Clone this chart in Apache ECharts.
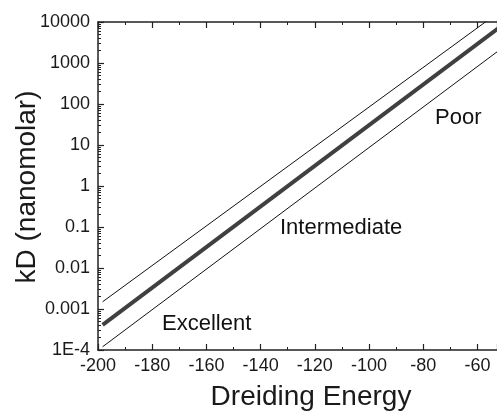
<!DOCTYPE html>
<html><head><meta charset="utf-8">
<script src="https://cdn.jsdelivr.net/npm/echarts@6/dist/echarts.min.js"></script>
<style>html,body{margin:0;padding:0;background:#fff}#c{width:497px;height:412px}</style>
</head><body><div id="c"></div>
<script>
// Data
var energyRange = [-198.3, -50];
var upperLine = [0.0015, 22000];   // kD at energyRange ends (clipped at top)
var centerLine = [0.00041, 9100];
var lowerLine = [0.00012, 2570];
var xTicks = [-200, -180, -160, -140, -120, -100, -80, -60];
var yTickValues = [0.0001, 0.001, 0.01, 0.1, 1, 10, 100, 1000, 10000];
var yTickLabels = ['1E-4', '0.001', '0.01', '0.1', '1', '10', '100', '1000', '10000'];
var regionLabels = ['Excellent', 'Intermediate', 'Poor'];
var xTitle = 'Dreiding Energy';
var yTitle = 'kD (nanomolar)';

function pairs(ys){ return [[energyRange[0], ys[0]], [energyRange[1], ys[1]]]; }
var minorY = [];
for (var d = -4; d < 4; d++) for (var k = 2; k <= 9; k++) minorY.push(k * Math.pow(10, d));

var font = 'Liberation Sans, Arial, sans-serif';
var chart = echarts.init(document.getElementById('c'), null, {renderer:'canvas'});
var axisLineStyle = {color:'#222', width:1.5};
chart.setOption({
  backgroundColor:'#fff',
  animation:false,
  grid:{left:98, top:22, bottom:62, right:0, outerBoundsMode:'none', containLabel:false},
  xAxis:[{
    type:'value', min:-200, max:-52.8, interval:20, position:'bottom',
    axisLine:{show:true, onZero:false, lineStyle:axisLineStyle},
    axisTick:{show:true, inside:true, length:6, lineStyle:{color:'#222', width:1.2}},
    minorTick:{show:true, splitNumber:2, length:3, lineStyle:{color:'#222', width:1}},
    splitLine:{show:false},
    axisLabel:{show:true, margin:7, fontSize:18, color:'#1a1a1a', fontFamily:font, showMaxLabel:false,
      formatter:function(v){ return xTicks.indexOf(v) >= 0 ? String(v) : ''; }}
  },{
    type:'value', min:-200, max:-52.8, interval:20, position:'top',
    axisLine:{show:true, onZero:false, lineStyle:axisLineStyle},
    axisTick:{show:true, inside:true, length:6, lineStyle:{color:'#222', width:1.2}},
    minorTick:{show:true, splitNumber:2, length:3, lineStyle:{color:'#222', width:1}},
    splitLine:{show:false}, axisLabel:{show:false}
  }],
  yAxis:[{
    type:'log', logBase:10, min:0.0001, max:10000, position:'left',
    axisLine:{show:true, onZero:false, lineStyle:axisLineStyle},
    axisTick:{show:true, inside:true, length:6, lineStyle:{color:'#222', width:1.2}},
    splitLine:{show:false},
    axisLabel:{show:true, margin:8, fontSize:18, color:'#1a1a1a', fontFamily:font,
      formatter:function(v){ var i = -1; for (var j=0;j<yTickValues.length;j++){ if (Math.abs(Math.log10(v)-Math.log10(yTickValues[j]))<1e-6) i=j; } return i>=0 ? yTickLabels[i] : ''; }}
  },{
    type:'log', logBase:10, min:0.0001, max:10000, position:'left',
    axisLine:{show:false, onZero:false},
    axisTick:{show:true, inside:true, length:3, customValues:minorY, lineStyle:{color:'#222', width:1}},
    axisLabel:{show:false}, splitLine:{show:false}
  }],
  series:[
    {type:'line', xAxisIndex:0, yAxisIndex:0, data:pairs(upperLine), symbol:'none', lineStyle:{color:'#111', width:1}, clip:true},
    {type:'line', xAxisIndex:0, yAxisIndex:0, data:pairs(centerLine), symbol:'none', lineStyle:{color:'#404040', width:4}, clip:true},
    {type:'line', xAxisIndex:0, yAxisIndex:0, data:pairs(lowerLine), symbol:'none', lineStyle:{color:'#111', width:1}, clip:true}
  ],
  graphic:[
    {type:'text', left:162, top:313, style:{text:regionLabels[0], fontSize:22, fill:'#111', fontFamily:font}},
    {type:'text', left:280, top:217, style:{text:regionLabels[1], fontSize:22, fill:'#111', fontFamily:font}},
    {type:'text', left:435, top:107, style:{text:regionLabels[2], fontSize:22, fill:'#111', fontFamily:font}},
    {type:'text', x:311, y:397, style:{text:xTitle, fontSize:28, fill:'#1a1a1a', fontFamily:font, align:'center', verticalAlign:'middle'}},
    {type:'text', x:27, y:187, rotation:Math.PI/2, style:{text:yTitle, fontSize:28, fill:'#1a1a1a', fontFamily:font, align:'center', verticalAlign:'middle'}}
  ]
});
</script></body></html>
